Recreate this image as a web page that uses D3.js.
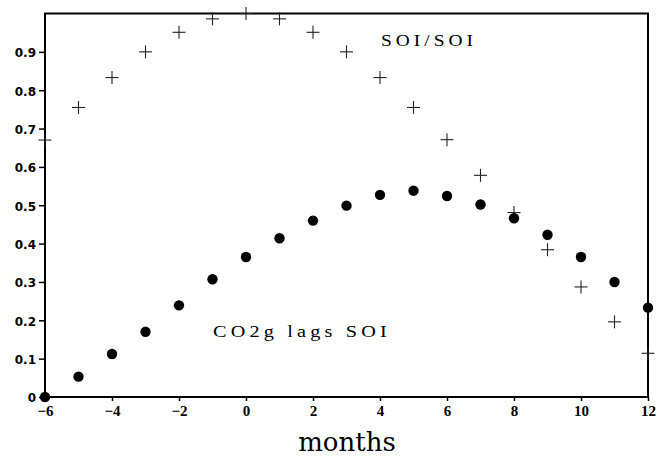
<!DOCTYPE html>
<html><head><meta charset="utf-8">
<script src="https://cdn.jsdelivr.net/npm/d3@7"></script>
<style>body{margin:0;background:#fff}svg{display:block}</style>
</head><body>
<script>
const lags = [-6,-5,-4,-3,-2,-1,0,1,2,3,4,5,6,7,8,9,10,11,12];
const soiSoi = [0.670,0.755,0.833,0.900,0.951,0.986,1.000,0.986,0.951,0.900,0.833,0.755,0.671,0.578,0.481,0.384,0.287,0.196,0.114];
const co2Soi = [0.000,0.053,0.112,0.170,0.239,0.307,0.365,0.414,0.460,0.499,0.527,0.538,0.524,0.502,0.466,0.423,0.365,0.300,0.233];
const xTicks = [-6,-4,-2,0,2,4,6,8,10,12];
const yTicks = [0,0.1,0.2,0.3,0.4,0.5,0.6,0.7,0.8,0.9];
const xTitle = "months";
const label1 = "SOI/SOI";
const label2 = "CO2g lags SOI";

const W = 668, H = 458;
const svg = d3.select("body").append("svg").attr("width", W).attr("height", H);
const x = d3.scaleLinear().domain([-6,12]).range([45,648]);
const y = d3.scaleLinear().domain([0,1]).range([397,13.5]);

// frame
svg.append("rect").attr("x", x(-6)).attr("y", y(1)).attr("width", x(12)-x(-6)).attr("height", y(0)-y(1))
  .attr("fill","none").attr("stroke","#000").attr("stroke-width",2);

// y axis
const ya = svg.append("g").attr("transform", `translate(${x(-6)},0)`)
  .call(d3.axisLeft(y).tickValues(yTicks).tickSize(6).tickPadding(3).tickFormat(d => d===0 ? "0" : d3.format(".1f")(d)));
ya.select(".domain").remove();
ya.selectAll("line").attr("stroke","#000").attr("stroke-width",1.5);
ya.selectAll("text").attr("font-family","DejaVu Sans").attr("font-weight","bold").attr("font-size",12).attr("fill","#000").attr("dy","0.4em");

// x axis
const xa = svg.append("g").attr("transform", `translate(0,${y(0)})`)
  .call(d3.axisBottom(x).tickValues(xTicks).tickSize(4).tickPadding(4).tickFormat(d => d < 0 ? "\u2212" + Math.abs(d) : String(d)));
xa.select(".domain").remove();
xa.selectAll("line").attr("stroke","#000").attr("stroke-width",1.5);
xa.selectAll("text").attr("font-family","Liberation Serif").attr("font-weight","bold").attr("font-size",15).attr("fill","#000").attr("dy","0.75em");

// plus markers
const s = 6.5;
const pg = svg.append("g").attr("stroke","#222").attr("stroke-width",1.1);
lags.forEach((l,i) => {
  const cx = x(l), cy = y(soiSoi[i]);
  pg.append("line").attr("x1",cx-s).attr("x2",cx+s).attr("y1",cy).attr("y2",cy);
  pg.append("line").attr("x1",cx).attr("x2",cx).attr("y1",cy-s).attr("y2",cy+s);
});

// dots
svg.append("g").selectAll("circle").data(lags).join("circle")
  .attr("cx", d => x(d)).attr("cy", (d,i) => y(co2Soi[i])).attr("r",5.2).attr("fill","#000");

// labels
svg.append("text").attr("x",381).attr("y",46).attr("font-family","Liberation Serif").attr("font-size",17)
  .attr("letter-spacing",3.5).attr("textLength",96).attr("lengthAdjust","spacingAndGlyphs").text(label1);
svg.append("text").attr("x",213).attr("y",337).attr("font-family","Liberation Serif").attr("font-size",17)
  .attr("letter-spacing",3.5).attr("textLength",178).attr("lengthAdjust","spacingAndGlyphs").text(label2);
svg.append("text").attr("x",347).attr("y",451).attr("text-anchor","middle").attr("font-family","DejaVu Serif").attr("font-size",26).text(xTitle);
</script>
</body></html>
